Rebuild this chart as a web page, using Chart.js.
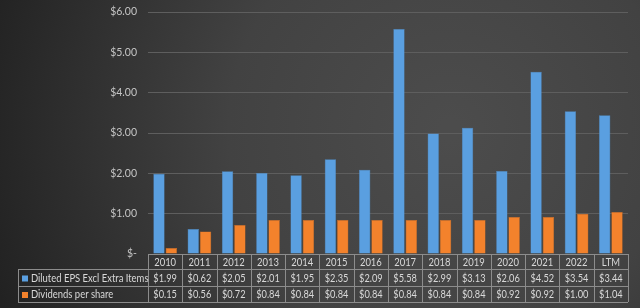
<!DOCTYPE html>
<html>
<head>
<meta charset="utf-8">
<script src="https://cdn.jsdelivr.net/npm/chart.js@4.4.1/dist/chart.umd.min.js"></script>
<style>
  html, body { margin: 0; padding: 0; background: #2a2a2a; }
  #wrap { width: 640px; height: 308px; position: relative; }
</style>
</head>
<body>
<div id="wrap"><canvas id="chart" width="640" height="308"></canvas></div>
<script>
const years = ['2010', '2011', '2012', '2013', '2014', '2015', '2016', '2017', '2018', '2019', '2020', '2021', '2022', 'LTM'];
const eps = [1.99, 0.62, 2.05, 2.01, 1.95, 2.35, 2.09, 5.58, 2.99, 3.13, 2.06, 4.52, 3.54, 3.44];
const dividends = [0.15, 0.56, 0.72, 0.84, 0.84, 0.84, 0.84, 0.84, 0.84, 0.84, 0.92, 0.92, 1.00, 1.04];
const seriesNames = ['Diluted EPS Excl Extra Items', 'Dividends per share'];

const FONT = 'Lato, sans-serif';
const blue = '#5a9fe0';
const orange = '#f3822c';

function money(v) {
    return '$' + v.toFixed(2);
}

// narrow text, the source font is calibri
function narrowText(ctx, text, x, y, sx) {
    ctx.save();
    ctx.translate(x, y);
    ctx.scale(sx, 1);
    ctx.fillText(text, 0, 0);
    ctx.restore();
}

// dark radial background like the excel theme
const backgroundPlugin = {
    id: 'bg',
    beforeDraw(chart) {
        const ctx = chart.ctx;
        const g = ctx.createRadialGradient(450, 130, 10, 450, 130, 480);
        g.addColorStop(0, '#4c4c4c');
        g.addColorStop(0.45, '#424242');
        g.addColorStop(1, '#222222');
        ctx.save();
        ctx.fillStyle = g;
        ctx.fillRect(0, 0, chart.width, chart.height);
        ctx.restore();
    }
};

// data table under the plot
const tablePlugin = {
    id: 'table',
    afterDraw(chart) {
        const ctx = chart.ctx;
        const xs = chart.scales.x;
        const area = chart.chartArea;
        const n = years.length;
        const colW = (area.right - area.left) / n;
        const top = Math.round(area.bottom);
        const rows = [top, top + 15, top + 32, top + 48];
        const legendLeft = 18;

        ctx.save();
        ctx.strokeStyle = '#8c8c8c';
        ctx.lineWidth = 1;
        ctx.beginPath();
        ctx.moveTo(area.left, rows[0] + 0.5); ctx.lineTo(area.right, rows[0] + 0.5);
        for (let r = 1; r < rows.length; r++) {
            ctx.moveTo(legendLeft, rows[r] + 0.5); ctx.lineTo(area.right, rows[r] + 0.5);
        }
        for (let i = 0; i <= n; i++) {
            const x = Math.round(area.left + i * colW) + 0.5;
            ctx.moveTo(x, rows[0]); ctx.lineTo(x, rows[3]);
        }
        ctx.moveTo(legendLeft + 0.5, rows[1]); ctx.lineTo(legendLeft + 0.5, rows[3]);
        ctx.stroke();

        ctx.fillStyle = '#d8d8d8';
        ctx.font = '10.5px ' + FONT;
        ctx.textAlign = 'center';
        ctx.textBaseline = 'middle';
        for (let i = 0; i < n; i++) {
            const cx = xs.getPixelForValue(i);
            narrowText(ctx, years[i], cx, (rows[0] + rows[1]) / 2 + 1, 0.9);
            narrowText(ctx, money(eps[i]), cx, (rows[1] + rows[2]) / 2 + 1, 0.88);
            narrowText(ctx, money(dividends[i]), cx, (rows[2] + rows[3]) / 2 + 1, 0.88);
        }

        ctx.textAlign = 'left';
        const colors = [blue, orange];
        for (let r = 0; r < 2; r++) {
            const cy = (rows[r + 1] + rows[r + 2]) / 2 + 1;
            ctx.fillStyle = colors[r];
            ctx.fillRect(legendLeft + 4, cy - 3, 6, 6);
            ctx.fillStyle = '#d8d8d8';
            narrowText(ctx, seriesNames[r], legendLeft + 13, cy, 0.9);
        }
        ctx.restore();
    }
};

const ctx = document.getElementById('chart').getContext('2d');

const chart = new Chart(ctx, {
    type: 'bar',
    data: {
        labels: years,
        datasets: [{
            label: seriesNames[0],
            data: eps,
            backgroundColor: blue,
            borderColor: '#4f8cc8',
            borderWidth: 0.5,
            categoryPercentage: 0.72,
            barPercentage: 0.92
        }, {
            label: seriesNames[1],
            data: dividends,
            backgroundColor: orange,
            borderColor: '#d86e20',
            borderWidth: 0.5,
            categoryPercentage: 0.72,
            barPercentage: 0.92
        }]
    },
    options: {
        responsive: false,
        animation: false,
        layout: {
            padding: { top: 12, right: 12, bottom: 54, left: 0 }
        },
        plugins: {
            legend: { display: false },
            tooltip: { enabled: false }
        },
        scales: {
            x: {
                display: false
            },
            y: {
                min: 0,
                max: 6,
                afterFit(scale) {
                    scale.width = 148;
                    scale.paddingTop = 0;
                    scale.paddingBottom = 0;
                },
                border: { display: false },
                grid: {
                    color: '#5e5e5e',
                    lineWidth: 1,
                    drawTicks: false
                },
                ticks: {
                    stepSize: 1,
                    padding: 11,
                    color: '#c4c4c4',
                    font: { family: FONT, size: 10.5 },
                    callback: v => v === 0 ? '$-' : money(v)
                }
            }
        }
    },
    plugins: [backgroundPlugin, tablePlugin]
});
</script>
</body>
</html>
